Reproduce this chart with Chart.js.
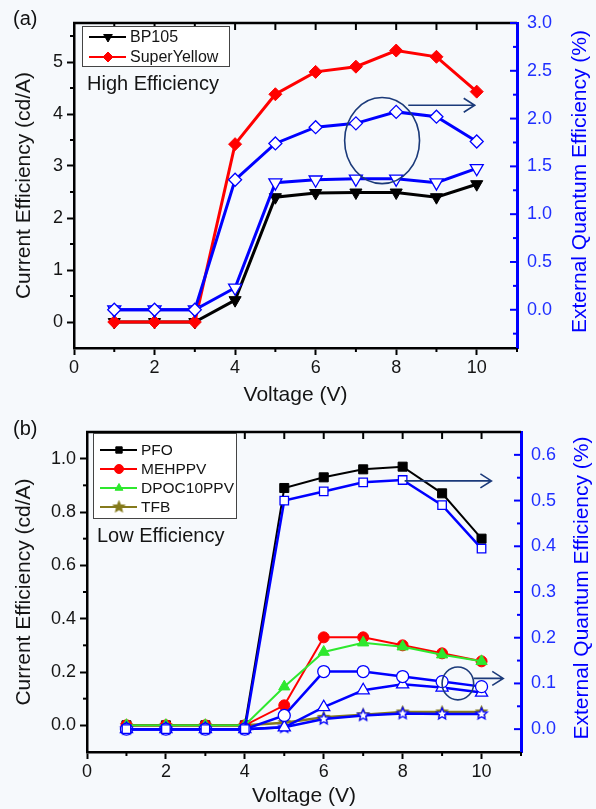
<!DOCTYPE html>
<html>
<head>
<meta charset="utf-8">
<script src="https://cdn.jsdelivr.net/npm/chart.js@4.4.1/dist/chart.umd.min.js"></script>
<style>
    body { margin: 0; background: #f6f9fc; width: 596px; height: 809px; overflow: hidden; position: relative;
           font-family: "Liberation Sans", Arial, sans-serif; }
    canvas { position: absolute; left: 0; }
    #chartA { top: 0; }
    #chartB { top: 410px; }
    .tag { position: absolute; left: 13px; font-size: 20px; color: #111; line-height: 24px; }
</style>
</head>
<body>
<canvas id="chartA" width="596" height="410"></canvas>
<canvas id="chartB" width="596" height="399"></canvas>
<div class="tag" style="top:6px">(a)</div>
<div class="tag" style="top:416px">(b)</div>
<script>
const FONT = '"Liberation Sans", Arial, sans-serif';
const BLUE = "#0000ff";
const NAVY = "#1b3a7a";
const OLIVE = "#857a1c";

// shared x values and ticks
const voltage = [1, 2, 3, 4, 5, 6, 7, 8, 9, 10];
const xTicks = [0, 2, 4, 6, 8, 10];
const xMinor = [1, 3, 5, 7, 9, 11];
const xTop = [1, 2, 3, 4, 5, 6, 7, 8, 9, 10];

// (a) high efficiency
const bp105CE = [0, 0, 0, 0.42, 2.40, 2.48, 2.49, 2.49, 2.40, 2.65];
const superYellowCE = [0, 0, 0, 3.42, 4.38, 4.81, 4.91, 5.22, 5.10, 4.43];
const bp105EQE = [0, 0, 0, 0.23, 1.33, 1.36, 1.37, 1.37, 1.33, 1.48];
const superYellowEQE = [0, 0, 0, 1.36, 1.74, 1.91, 1.95, 2.07, 2.02, 1.76];
const ceTicksA = [0, 1, 2, 3, 4, 5];
const ceMinorA = [0.5, 1.5, 2.5, 3.5, 4.5, 5.5];
const eqeTicksA = [0, 0.5, 1.0, 1.5, 2.0, 2.5, 3.0];
const eqeMinorA = [-0.25, 0.25, 0.75, 1.25, 1.75, 2.25, 2.75];

// (b) low efficiency
const pfoCE = [0, 0, 0, 0, 0.89, 0.93, 0.96, 0.97, 0.87, 0.70];
const mehppvCE = [0, 0, 0, 0, 0.075, 0.33, 0.33, 0.30, 0.27, 0.24];
const dpocCE = [0, 0, 0, 0, 0.145, 0.275, 0.31, 0.295, 0.265, 0.24];
const tfbCE = [0, 0, 0, 0, 0.01, 0.03, 0.04, 0.05, 0.05, 0.05];
const pfoEQE = [0, 0, 0, 0, 0.50, 0.52, 0.54, 0.545, 0.49, 0.395];
const mehppvEQE = [0, 0, 0, 0, 0.03, 0.126, 0.126, 0.115, 0.104, 0.093];
const dpocEQE = [0, 0, 0, 0, 0.004, 0.048, 0.085, 0.098, 0.091, 0.08];
const tfbEQE = [0, 0, 0, 0, 0.004, 0.022, 0.03, 0.034, 0.033, 0.033];
const ceTicksB = [0, 0.2, 0.4, 0.6, 0.8, 1.0];
const ceMinorB = [0.1, 0.3, 0.5, 0.7, 0.9];
const eqeTicksB = [0, 0.1, 0.2, 0.3, 0.4, 0.5, 0.6];
const eqeMinorB = [0.05, 0.15, 0.25, 0.35, 0.45, 0.55];

// five point star marker (Chart.js has none)
function starImage(fill, stroke, r) {
    const c = document.createElement("canvas");
    const s = Math.ceil(r * 2 + 4);
    c.width = c.height = s;
    const g = c.getContext("2d");
    g.beginPath();
    for (let i = 0; i < 10; i++) {
        const rr = i % 2 ? r * 0.45 : r;
        const a = -Math.PI / 2 + i * Math.PI / 5;
        g.lineTo(s / 2 + rr * Math.cos(a), s / 2 + rr * Math.sin(a));
    }
    g.closePath();
    g.fillStyle = fill;
    g.fill();
    g.lineWidth = 1.3;
    g.strokeStyle = stroke;
    g.stroke();
    return c;
}

function series(label, values, axis, color, style, radius, extra = {}) {
    return Object.assign({
        label,
        data: voltage.map((v, i) => ({ x: v, y: values[i] })),
        yAxisID: axis,
        borderColor: color,
        backgroundColor: color,
        pointBackgroundColor: color,
        pointBorderColor: color,
        pointStyle: style,
        pointRadius: radius,
        pointBorderWidth: 1,
        borderWidth: 2,
        tension: 0
    }, extra);
}

function openSeries(label, values, style, radius, extra = {}) {
    return series(label, values, "y2", BLUE, style, radius,
        Object.assign({ pointBackgroundColor: "#ffffff", pointBorderWidth: 1.3 }, extra));
}

function xScale(height, titlePad) {
    return {
        type: "linear", position: "bottom", min: 0, max: 11,
        afterBuildTicks: s => { s.ticks = xTicks.map(v => ({ value: v })); },
        afterFit: s => { s.height = height; },
        border: { color: "#000", width: 2.5 },
        grid: { drawOnChartArea: false, tickLength: 7, tickWidth: 2, tickColor: "#000" },
        ticks: { color: "#151515", font: { family: FONT, size: 18 }, padding: 2, maxRotation: 0, autoSkip: false },
        title: { display: true, text: "Voltage (V)", color: "#151515", font: { family: FONT, size: 21 },
                 padding: { top: 0, bottom: titlePad } }
    };
}

function leftScale(min, max, ticks, digits) {
    return {
        type: "linear", position: "left", min, max,
        afterBuildTicks: s => { s.ticks = ticks.map(v => ({ value: v })); },
        afterFit: s => { s.width = 0; },
        border: { color: "#000", width: 2.5 },
        grid: { drawOnChartArea: false, tickLength: 7, tickWidth: 2, tickColor: "#000" },
        ticks: { color: "#151515", font: { family: FONT, size: 18 }, padding: 4,
                 callback: v => v.toFixed(digits) },
        title: { display: true, text: "Current Efficiency (cd/A)", color: "#151515",
                 font: { family: FONT, size: 21 }, padding: { top: 12, bottom: 0 } }
    };
}

function rightScale(min, max, ticks, width) {
    return {
        type: "linear", position: "right", min, max,
        afterBuildTicks: s => { s.ticks = ticks.map(v => ({ value: v })); },
        afterFit: s => { s.width = width; },
        border: { color: BLUE, width: 3 },
        grid: { drawOnChartArea: false, drawTicks: false },
        ticks: { color: "#1f2fff", font: { family: FONT, size: 18 }, padding: 10,
                 callback: v => v.toFixed(1) }
    };
}

// top border, inward top/right ticks, minor ticks, right title
const framePlugin = {
    id: "frame",
    afterDraw(chart, args, o) {
        const { ctx, chartArea: a, scales } = chart;
        const x = scales.x, y = scales.y, y2 = scales.y2;
        const seg = (x1, y1, x2, y2_) => { ctx.beginPath(); ctx.moveTo(x1, y1); ctx.lineTo(x2, y2_); ctx.stroke(); };
        ctx.save();
        ctx.strokeStyle = "#000";
        ctx.lineWidth = 2.5;
        seg(a.left - 1, a.top, a.right, a.top);
        ctx.lineWidth = 2;
        xTop.forEach(v => { const p = x.getPixelForValue(v); seg(p, a.top, p, a.top + 7); });
        xMinor.forEach(v => { const p = x.getPixelForValue(v); seg(p, a.bottom, p, a.bottom + 4); });
        o.yMinor.forEach(v => { const p = y.getPixelForValue(v); seg(a.left - 4, p, a.left, p); });
        ctx.strokeStyle = BLUE;
        o.y2Ticks.forEach(v => { const p = y2.getPixelForValue(v); seg(a.right - 7, p, a.right, p); });
        o.y2Minor.forEach(v => { const p = y2.getPixelForValue(v); seg(a.right - 4, p, a.right, p); });

        ctx.translate(chart.width - o.titleOffset, (a.top + a.bottom) / 2 - 4);
        ctx.rotate(-Math.PI / 2);
        ctx.fillStyle = BLUE;
        ctx.font = "21px " + FONT;
        ctx.textAlign = "center";
        ctx.textBaseline = "middle";
        ctx.fillText("External Quantum Efficiency (%)", 0, 0);
        ctx.restore();
    }
};

// ellipse and arrow marks, given in data units (x, y2)
const calloutPlugin = {
    id: "callout",
    afterDraw(chart, args, o) {
        const { ctx, scales } = chart;
        const x = scales.x, y2 = scales.y2;
        ctx.save();
        ctx.strokeStyle = NAVY;
        ctx.lineWidth = 1.6;
        o.ellipses.forEach(([cx, cy, rx, ry]) => {
            const px = x.getPixelForValue(cx), py = y2.getPixelForValue(cy);
            ctx.beginPath();
            ctx.ellipse(px, py, x.getPixelForValue(cx + rx) - px, py - y2.getPixelForValue(cy + ry), 0, 0, Math.PI * 2);
            ctx.stroke();
        });
        o.arrows.forEach(([x1, x2, yv]) => {
            const p1 = x.getPixelForValue(x1), p2 = x.getPixelForValue(x2), py = y2.getPixelForValue(yv);
            ctx.beginPath();
            ctx.moveTo(p1, py); ctx.lineTo(p2, py);
            ctx.moveTo(p2 - 11, py - 7); ctx.lineTo(p2, py); ctx.lineTo(p2 - 11, py + 7);
            ctx.stroke();
        });
        ctx.restore();
    }
};

// boxed legend for filled series plus the panel note
const legendPlugin = {
    id: "boxLegend",
    afterDraw(chart, args, o) {
        const { ctx, chartArea: a } = chart;
        const bx = a.left + o.dx, by = a.top + o.dy;
        ctx.save();
        ctx.fillStyle = "#ffffff";
        ctx.fillRect(bx, by, o.w, o.h);
        ctx.strokeStyle = "#444";
        ctx.lineWidth = 1;
        ctx.strokeRect(bx + 0.5, by + 0.5, o.w, o.h);
        ctx.textBaseline = "middle";
        ctx.font = o.size + "px " + FONT;
        chart.data.datasets.filter(d => d.inLegend).forEach((d, i) => {
            const cy = by + o.first + i * o.row;
            ctx.strokeStyle = d.borderColor;
            ctx.lineWidth = 2;
            ctx.beginPath(); ctx.moveTo(bx + 7, cy); ctx.lineTo(bx + 44, cy); ctx.stroke();
            ctx.fillStyle = d.pointBackgroundColor;
            ctx.strokeStyle = d.pointBorderColor;
            ctx.lineWidth = 1;
            Chart.helpers.drawPoint(ctx, { pointStyle: d.pointStyle, rotation: d.pointRotation || 0,
                radius: o.marker, borderWidth: 1 }, bx + 26, cy);
            ctx.fillStyle = "#151515";
            ctx.fillText(d.label, bx + 48, cy + 1);
        });
        ctx.font = "20px " + FONT;
        ctx.fillText(o.note, a.left + o.noteDx, a.top + o.noteDy);
        ctx.restore();
    }
};

const plugins = [framePlugin, calloutPlugin, legendPlugin];

function baseOptions(padTop, scales) {
    return {
        responsive: false,
        animation: false,
        layout: { padding: { top: padTop, left: 0, right: 0, bottom: 0 } },
        scales
    };
}

// ---- panel (a)
const optsA = baseOptions(23, {
    x: xScale(62, 2),
    y: leftScale(-0.5, 5.75, ceTicksA, 0),
    y2: rightScale(-0.4, 3.0, eqeTicksA, 79)
});
optsA.scales.y.afterFit = s => { s.width = 74; };
optsA.plugins = {
    legend: { display: false }, tooltip: { enabled: false },
    frame: { yMinor: ceMinorA, y2Ticks: eqeTicksA, y2Minor: eqeMinorA, titleOffset: 16 },
    callout: { ellipses: [[7.65, 1.77, 0.93, 0.45]], arrows: [[8.3, 9.95, 2.14]] },
    boxLegend: { dx: 8, dy: 3, w: 147, h: 40, first: 11, row: 20, size: 16, marker: 5,
                 note: "High Efficiency", noteDx: 13, noteDy: 61 }
};

new Chart(document.getElementById("chartA"), {
    type: "line",
    data: {
        datasets: [
            openSeries("SuperYellow EQE", superYellowEQE, "rectRot", 6.5, { borderWidth: 3, order: 0 }),
            openSeries("BP105 EQE", bp105EQE, "triangle", 7.5, { borderWidth: 3, pointRotation: 180, order: 1 }),
            series("BP105", bp105CE, "y", "#000000", "triangle", 7,
                { borderWidth: 3, pointRotation: 180, inLegend: true, order: 3 }),
            series("SuperYellow", superYellowCE, "y", "#ff0000", "rectRot", 6.5,
                { borderWidth: 3, inLegend: true, order: 2 })
        ]
    },
    options: optsA,
    plugins
});

// ---- panel (b)
const starOlive = starImage(OLIVE, OLIVE, 5.5);
const starOpen = starImage("#ffffff", BLUE, 6);

const optsB = baseOptions(22, {
    x: xScale(57, 0),
    y: leftScale(-0.1, 1.1, ceTicksB, 1),
    y2: rightScale(-0.05, 0.65, eqeTicksB, 75)
});
optsB.scales.y.afterFit = s => { s.width = 87; };
optsB.plugins = {
    legend: { display: false }, tooltip: { enabled: false },
    frame: { yMinor: ceMinorB, y2Ticks: eqeTicksB, y2Minor: eqeMinorB, titleOffset: 14 },
    callout: { ellipses: [[9.4, 0.10, 0.4, 0.036]], arrows: [[8.05, 10.25, 0.543], [9.8, 10.55, 0.111]] },
    boxLegend: { dx: 6, dy: 1, w: 143, h: 85, first: 17, row: 19, size: 15.5, marker: 4.5,
                 note: "Low Efficiency", noteDx: 10, noteDy: 104 }
};

new Chart(document.getElementById("chartB"), {
    type: "line",
    data: {
        datasets: [
            openSeries("PFO EQE", pfoEQE, "rect", 6, { borderWidth: 2.5, order: 0 }),
            openSeries("MEHPPV EQE", mehppvEQE, "circle", 6, { borderWidth: 2.5, order: 1 }),
            openSeries("DPOC10PPV EQE", dpocEQE, "triangle", 7, { borderWidth: 2.5, order: 2 }),
            openSeries("TFB EQE", tfbEQE, starOpen, 6, { borderWidth: 2.5, order: 3 }),
            series("PFO", pfoCE, "y", "#000000", "rect", 6.4, { inLegend: true, order: 6 }),
            series("MEHPPV", mehppvCE, "y", "#ff0000", "circle", 5.5, { inLegend: true, order: 5 }),
            series("DPOC10PPV", dpocCE, "y", "#2ee82e", "triangle", 6.5, { inLegend: true, order: 4 }),
            series("TFB", tfbCE, "y", OLIVE, starOlive, 5.5, { borderWidth: 2.5, inLegend: true, order: 7 })
        ]
    },
    options: optsB,
    plugins
});
</script>
</body>
</html>
